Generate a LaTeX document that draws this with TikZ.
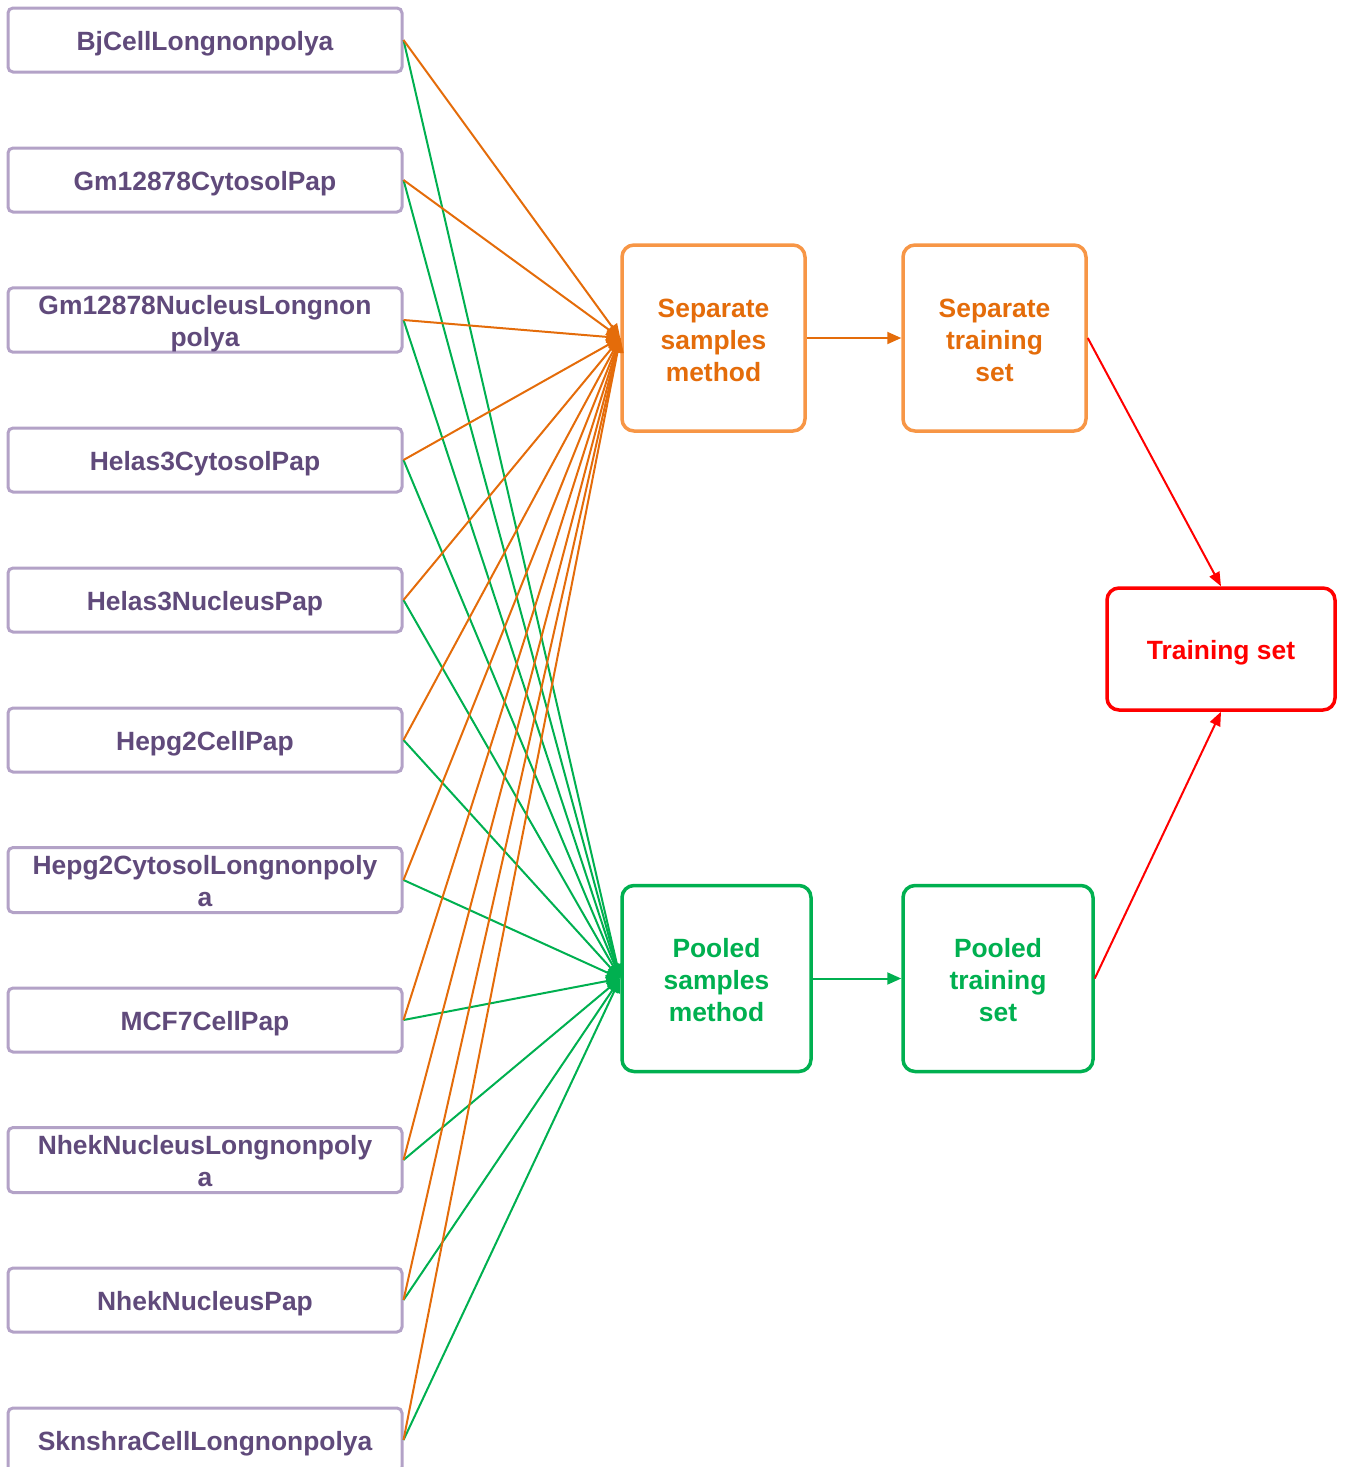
\documentclass[tikz,border=0pt]{standalone}
\usepackage{fontspec}
\setmainfont{Liberation Sans}
\usetikzlibrary{arrows.meta}
\definecolor{srcline}{HTML}{B3A2C7}
\definecolor{srctext}{HTML}{604A7B}
\definecolor{orline}{HTML}{F79646}
\definecolor{ortext}{HTML}{E46C0A}
\definecolor{grn}{HTML}{00B050}
\definecolor{rd}{HTML}{FF0000}
% invisible struts that even out the line boxes of the labels
\newcommand\toplift{\rule{0pt}{27pt}}
\newcommand\stagelift{\rule{0pt}{23pt}}
\newcommand\lowdepth{\rule[-6pt]{0pt}{6pt}}
\tikzset{
  boxfont/.style={font=\fontsize{26.4}{32}\selectfont\bfseries},
  src/.style={draw=srcline, line width=3pt, rounded corners=5pt, fill=white,
    minimum width=394pt, minimum height=64pt, inner sep=0pt, align=center,
    text=srctext, boxfont},
  stage/.style={line width=3.5pt, rounded corners=12pt, fill=white,
    minimum height=186pt, inner sep=0pt, align=center, boxfont},
  orbox/.style={stage, draw=orline, text=ortext},
  grbox/.style={stage, draw=grn, text=grn},
  sepln/.style={draw=ortext, line width=2pt, -{Triangle[length=14pt,width=12pt]}},
  poolln/.style={draw=grn, line width=2pt, -{Triangle[length=14pt,width=12pt]}},
  redln/.style={draw=rd, line width=2pt, -{Triangle[length=14pt,width=11pt]}}
}
\begin{document}
\begin{tikzpicture}[x=1pt, y=-1pt]
\useasboundingbox (0,0) rectangle (1347,1467);

% processing stages
\node[orbox, minimum width=183pt] (sep)  at (713.5,338) {\stagelift Separate\\samples\\method};
\node[orbox, minimum width=183pt] (sept) at (994.5,338) {\stagelift Separate\\training\\set};
\node[grbox, minimum width=189pt] (pool) at (716.5,978.5) {\stagelift Pooled\\samples\\method};
\node[grbox, minimum width=190pt] (poolt) at (998,978.5) {\stagelift Pooled\\training\\set};
\node[draw=rd, line width=3.5pt, rounded corners=12pt, minimum width=228pt,
      minimum height=122pt, inner sep=0pt, text=rd, boxfont]
      (train) at (1221,649) {\toplift Training set};

% sample sources
\node[src] (s1)  at (205,40)   {\toplift BjCellLongnonpolya};
\node[src] (s2)  at (205,180)  {\toplift Gm12878CytosolPap};
\node[src] (s3)  at (205,320)  {\toplift Gm12878NucleusLongnon\\polya};
\node[src] (s4)  at (205,460)  {\toplift Helas3CytosolPap};
\node[src] (s5)  at (205,600)  {\toplift Helas3NucleusPap};
\node[src] (s6)  at (205,740)  {\toplift Hepg2CellPap};
\node[src] (s7)  at (205,880)  {\toplift Hepg2CytosolLongnonpoly\\a\lowdepth};
\node[src] (s8)  at (205,1020) {\toplift MCF7CellPap};
\node[src] (s9)  at (205,1160) {\toplift NhekNucleusLongnonpoly\\a\lowdepth};
\node[src] (s10) at (205,1300) {\toplift NhekNucleusPap};
\node[src] (s11) at (205,1440) {\toplift SknshraCellLongnonpolya};

% every source feeds both methods
\foreach \i in {1,...,11}{
  \draw[poolln] (s\i.east) -- (pool.west);
  \draw[sepln] (s\i.east) -- (sep.west);
}

% method -> training set -> combined training set
\draw[sepln] (sep.east) -- (sept.west);
\draw[poolln] (pool.east) -- (poolt.west);
\draw[redln] (sept.east) -- (train.north);
\draw[redln] (poolt.east) -- (train.south);
\end{tikzpicture}
\end{document}
